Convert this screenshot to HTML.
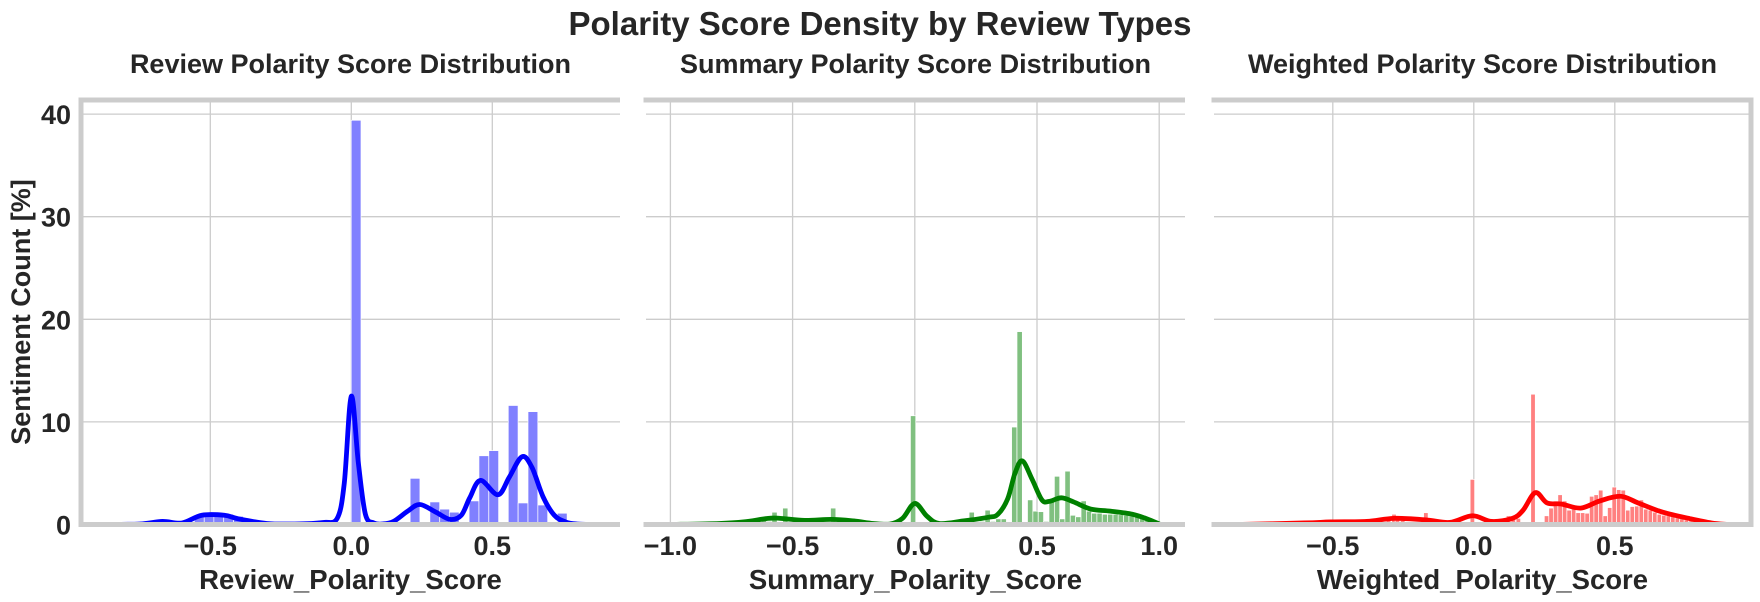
<!DOCTYPE html>
<html><head><meta charset="utf-8"><style>
body{margin:0;background:#fff;}
svg{display:block;font-family:"Liberation Sans",Arial,sans-serif;font-weight:bold;fill:#262626;}
</style></head><body>
<svg id="chart" width="1760" height="602" viewBox="0 0 1760 602" xmlns="http://www.w3.org/2000/svg">
<text x="880" y="35" text-anchor="middle" font-size="33">Polarity Score Density by Review Types</text>
<text transform="translate(30,312) rotate(-90)" text-anchor="middle" font-size="27">Sentiment Count [%]</text>
<g id="panels"></g>
</svg>
<script>
// ---- Panel 1: Review polarity ----
const p1BarX = [-0.642,-0.607,-0.539,-0.504,-0.470,-0.435,-0.400,-0.365,0.017,0.226,0.296,0.331,0.365,0.435,0.470,0.505,0.574,0.609,0.644,0.679,0.748];
const p1BarY = [0.2,0.3,0.8,0.9,1.0,1.0,0.8,0.4,39.4,4.5,2.2,1.5,1.2,2.3,6.7,7.2,11.6,2.1,11.0,1.9,1.1];
const p1KdeX = [-0.87,-0.75,-0.67,-0.6,-0.53,-0.45,-0.4,-0.3,-0.2,-0.1,-0.05,-0.025,0.0,0.025,0.05,0.08,0.11,0.15,0.2,0.243,0.3,0.35,0.39,0.42,0.458,0.52,0.56,0.605,0.64,0.68,0.72,0.76,0.8,0.86];
const p1KdeY = [0,0.05,0.3,0.15,0.9,0.9,0.55,0.1,0.05,0.2,0.6,4.0,12.5,6.0,1.0,0.15,0.05,0.3,1.3,1.95,1.2,0.5,0.9,2.6,4.3,2.9,4.6,6.6,5.6,2.7,0.9,0.25,0.05,0];
// ---- Panel 2: Summary polarity ----
const p2BarX = [-0.617,-0.595,-0.574,-0.530,-0.508,-0.486,-0.465,-0.334,-0.007,0.233,0.255,0.276,0.298,0.320,0.342,0.364,0.385,0.407,0.429,0.451,0.472,0.494,0.516,0.538,0.560,0.582,0.603,0.625,0.647,0.669,0.691,0.713,0.734,0.756,0.778,0.800,0.822,0.843,0.865,0.887,0.909,0.931,0.952,0.974,0.996];
const p2BarY = [0.5,0.3,1.2,1.6,0.2,0.1,0.1,1.6,10.6,1.2,0.1,0.3,1.4,0.3,0.55,0.55,0.2,9.5,18.8,0.1,2.4,1.3,1.25,0.3,2.2,4.7,0.55,5.2,0.9,0.75,2.3,1.3,1.1,1.1,1.0,1.0,1.0,0.95,0.9,0.85,0.75,0.6,0.5,0.35,0.2];
const p2KdeX = [-1.0,-0.8,-0.7,-0.6,-0.55,-0.45,-0.34,-0.25,-0.17,-0.1,-0.05,0.0,0.05,0.1,0.2,0.3,0.34,0.38,0.41,0.44,0.48,0.52,0.55,0.6,0.65,0.72,0.8,0.89,0.95,1.0];
const p2KdeY = [0,0.1,0.25,0.6,0.6,0.4,0.5,0.35,0.1,0.05,0.6,2.05,0.8,0.1,0.35,0.7,1.0,2.5,5.0,6.2,4.4,2.4,2.25,2.6,2.2,1.5,1.3,1.0,0.55,0.05];
// ---- Panel 3: Weighted polarity ----
const p3BarX = [-0.302,-0.283,-0.271,-0.252,-0.222,-0.197,-0.170,-0.005,0.106,0.123,0.140,0.158,0.175,0.210,0.226,0.242,0.258,0.274,0.290,0.306,0.322,0.338,0.354,0.370,0.386,0.402,0.418,0.434,0.450,0.466,0.482,0.498,0.514,0.530,0.546,0.562,0.578,0.594,0.610,0.626,0.642,0.658,0.674,0.690,0.706,0.722,0.738,0.754,0.770,0.786,0.802,0.818,0.834,0.850];
const p3BarY = [0.5,1.0,0.6,0.4,0.2,0.2,1.15,4.4,0.6,0.85,0.85,0.6,0.2,12.7,0.2,0.1,0.85,1.6,1.85,2.9,2.3,1.4,1.75,1.15,1.15,1.1,2.75,2.9,3.35,0.85,1.65,3.65,3.4,3.35,1.4,1.75,1.8,2.4,1.5,1.4,1.2,1.0,0.9,0.85,0.75,0.65,0.55,0.45,0.35,0.25,0.2,0.15,0.1,0.05];
const p3KdeX = [-0.84,-0.6,-0.507,-0.38,-0.283,-0.17,-0.085,-0.005,0.063,0.137,0.175,0.218,0.26,0.31,0.379,0.447,0.52,0.583,0.67,0.77,0.843,0.9];
const p3KdeY = [0,0.15,0.25,0.3,0.6,0.45,0.2,0.85,0.3,0.6,1.4,3.1,2.1,2.0,1.6,2.3,2.75,2.1,1.2,0.55,0.15,0];
// ---- Axes ----
const yTicks = [0,10,20,30,40];
const p1XTicks = [-0.5,0.0,0.5];
const p2XTicks = [-1.0,-0.5,0.0,0.5,1.0];
const p3XTicks = [-0.5,0.0,0.5];
const titles = ["Review Polarity Score Distribution","Summary Polarity Score Distribution","Weighted Polarity Score Distribution"];
const xLabels = ["Review_Polarity_Score","Summary_Polarity_Score","Weighted_Polarity_Score"];

const NS = "http://www.w3.org/2000/svg";
const root = document.getElementById('panels');
const TOP = 100, BASE = 524.5, PPY = 10.26;
function yS(v){ return BASE - v*PPY; }
function mk(tag, attrs, parent){ const e=document.createElementNS(NS,tag); for(const k in attrs) e.setAttribute(k,attrs[k]); parent.appendChild(e); return e; }
function smooth(pts){
  let d = "M"+pts[0][0]+","+pts[0][1];
  for(let i=0;i<pts.length-1;i++){
    const p0=pts[Math.max(0,i-1)], p1=pts[i], p2=pts[i+1], p3=pts[Math.min(pts.length-1,i+2)];
    const c1x=p1[0]+(p2[0]-p0[0])/6, c1y=p1[1]+(p2[1]-p0[1])/6;
    const c2x=p2[0]-(p3[0]-p1[0])/6, c2y=p2[1]-(p3[1]-p1[1])/6;
    d+=" C"+c1x+","+c1y+" "+c2x+","+c2y+" "+p2[0]+","+p2[1];
  }
  return d;
}
function fmt(t){ return (t<0?"\u2212":"")+Math.abs(t).toFixed(1); }
function panel(idx, L, R, x0, ppu, binW, barX, barY, kx, ky, xt, barCol, lineCol, leftSpine, rightSpine){
  const xS = v => x0 + v*ppu;
  const g = mk('g',{},root);
  
  
  const cid='clip'+idx;
  const cp = mk('clipPath',{id:cid},g); mk('rect',{x:L,y:TOP,width:R-L,height:BASE-TOP},cp);
  yTicks.forEach(t=>{ const l=mk('line',{x1:L,x2:R,y1:yS(t),y2:yS(t),stroke:'#cccccc','stroke-width':1.3},g);
      });
  xt.forEach(t=>{ const l=mk('line',{x1:xS(t),x2:xS(t),y1:TOP,y2:BASE,stroke:'#cccccc','stroke-width':1.3},g);
     
    const tx=mk('text',{x:xS(t),y:555,'text-anchor':'middle','font-size':27},g); tx.textContent=fmt(t);
      });
  const bg = mk('g',{'clip-path':'url(#'+cid+')'},g);
  barX.forEach((c,i)=>{ const b=mk('rect',{x:xS(c-binW/2),y:yS(barY[i]),width:binW*ppu,height:barY[i]*PPY,fill:barCol,stroke:'#ffffff','stroke-width':0.7},bg);
      });
  const pts = kx.map((x,i)=>[xS(x), yS(ky[i])]);
  const p = mk('path',{d:smooth(pts),fill:'none',stroke:lineCol,'stroke-width':4.8,'stroke-linejoin':'round','stroke-linecap':'round'},bg);
   
  const sp='#cccccc';
  const s1=mk('line',{x1:L-2.5,x2:R+(rightSpine?2.5:0),y1:TOP,y2:TOP,stroke:sp,'stroke-width':5},g);
   
  const s2=mk('line',{x1:L-2.5,x2:R+(rightSpine?2.5:0),y1:BASE,y2:BASE,stroke:sp,'stroke-width':5},g);
   
  if(leftSpine){ const s=mk('line',{x1:L,x2:L,y1:TOP,y2:BASE,stroke:sp,'stroke-width':5},g);
     
    yTicks.forEach(t=>{ const tx=mk('text',{x:71,y:yS(t)+10,'text-anchor':'end','font-size':27},g); tx.textContent=t;
        }); }
  if(rightSpine){ const s=mk('line',{x1:R,x2:R,y1:TOP,y2:BASE,stroke:sp,'stroke-width':5},g);
      }
  const st=mk('text',{x:(L+R)/2,y:73,'text-anchor':'middle','font-size':27},g); st.textContent=titles[idx];
   
  const xl=mk('text',{x:(L+R)/2,y:589,'text-anchor':'middle','font-size':27.5},g); xl.textContent=xLabels[idx];
   
}
panel(0, 81, 620, 351.3, 282, 0.0348, p1BarX, p1BarY, p1KdeX, p1KdeY, p1XTicks, '#8080ff', '#0000ff', true, false);
panel(1, 646, 1185, 914.8, 244.4, 0.0218, p2BarX, p2BarY, p2KdeX, p2KdeY, p2XTicks, '#80c080', '#008000', false, false);
panel(2, 1214, 1751, 1473.8, 282, 0.016, p3BarX, p3BarY, p3KdeX, p3KdeY, p3XTicks, '#ff8080', '#ff0000', false, true);
</script>
</body></html>
